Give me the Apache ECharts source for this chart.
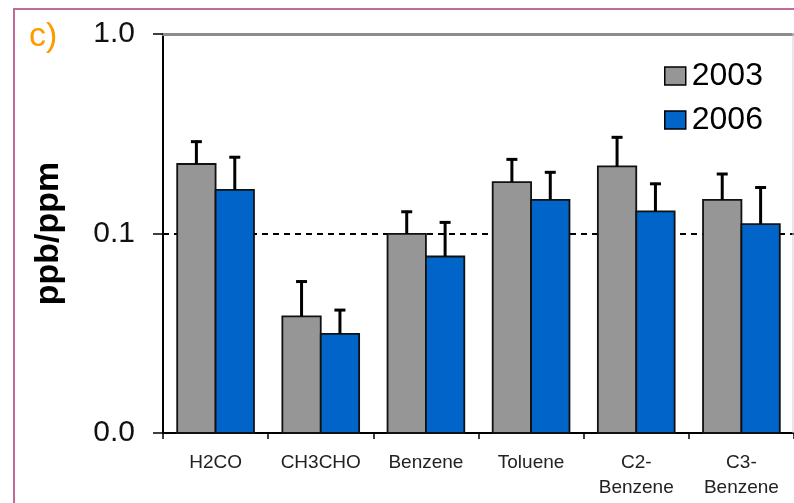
<!DOCTYPE html>
<html>
<head>
<meta charset="utf-8">
<script src="https://cdn.jsdelivr.net/npm/echarts@6/dist/echarts.min.js"></script>
<style>html,body{margin:0;padding:0;background:#fff;}#c{width:794px;height:503px;}</style>
</head>
<body>
<div id="c"></div>
<script>
const categories = ['H2CO', 'CH3CHO', 'Benzene', 'Toluene', 'C2-\nBenzene', 'C3-\nBenzene'];
const years = ['2003', '2006'];
const values2003 = [0.223, 0.0384, 0.0995, 0.181, 0.217, 0.1475];
const errTop2003 = [0.292, 0.0581, 0.130, 0.238, 0.307, 0.201];
const values2006 = [0.1656, 0.0314, 0.0767, 0.1475, 0.129, 0.1113];
const errTop2006 = [0.244, 0.0418, 0.115, 0.205, 0.1795, 0.172];
const yMin = 0.01, yMax = 1;

const chart = echarts.init(document.getElementById('c'), null, {renderer: 'canvas'});

function makeRender(side) {
  return function (params, api) {
    const i = api.value(0), v = api.value(1), e = api.value(2);
    const base = api.coord([i, yMin]);
    const top = api.coord([i, v]);
    const err = api.coord([i, e]);
    const band = api.coord([1, yMin])[0] - api.coord([0, yMin])[0];
    const barW = band * 0.365;
    const x = side === 0 ? top[0] - barW : top[0];
    const cx = x + barW / 2;
    return {
      type: 'group',
      children: [
        {type: 'rect', shape: {x: x, y: top[1], width: barW, height: base[1] - top[1]},
         style: {fill: api.visual('color'), stroke: '#111', lineWidth: 1.8}},
        {type: 'line', shape: {x1: cx, y1: top[1], x2: cx, y2: err[1]},
         style: {stroke: '#000', lineWidth: 3}},
        {type: 'line', shape: {x1: cx - 5.5, y1: err[1] + 1, x2: cx + 5.5, y2: err[1] + 1},
         style: {stroke: '#000', lineWidth: 3}}
      ]
    };
  };
}

function seriesData(vals, errs) {
  return vals.map((v, i) => [i, v, errs[i]]);
}

chart.setOption({
  animation: false,
  backgroundColor: '#fff',
  title: {text: 'c)', left: 24, top: 15, textStyle: {color: '#ff9900', fontSize: 34, fontWeight: 'normal', fontFamily: 'Liberation Sans'}},
  legend: {
    orient: 'vertical', left: 659, top: 55, itemWidth: 21, itemHeight: 18, itemGap: 12,
    icon: 'rect',
    data: years,
    itemStyle: {borderColor: '#000', borderWidth: 1.5},
    textStyle: {fontSize: 32, color: '#000', fontFamily: 'Liberation Sans', padding: [0, 0, 0, 1]}
  },
  grid: {left: 163, top: 34, width: 633, height: 399, containLabel: false},
  xAxis: [{
    type: 'category', data: categories, position: 'bottom',
    axisLine: {lineStyle: {color: '#000', width: 2}},
    axisTick: {show: true, length: 6, lineStyle: {color: '#000', width: 1.5}},
    axisLabel: {fontSize: 19, color: '#222', margin: 17, lineHeight: 25, fontFamily: 'Liberation Sans', interval: 0}
  }, {
    type: 'category', data: categories, position: 'top',
    axisLine: {lineStyle: {color: '#8c8c8c', width: 3}},
    axisTick: {show: false}, axisLabel: {show: false}
  }],
  yAxis: [{
    type: 'log', logBase: 10, min: yMin, max: yMax,
    name: 'ppb/ppm', nameLocation: 'middle', nameGap: 97, nameRotate: 90,
    nameTextStyle: {fontSize: 34, fontWeight: 'bold', color: '#000', fontFamily: 'Liberation Sans'},
    axisLine: {show: true, lineStyle: {color: '#000', width: 2}},
    axisTick: {show: true, length: 10, lineStyle: {color: '#000', width: 1.5}},
    minorTick: {show: false},
    axisLabel: {fontSize: 30, color: '#111', margin: 28, fontFamily: 'Liberation Sans',
      formatter: v => Number(v).toFixed(1)},
    splitLine: {show: true, lineStyle: {color: '#000', width: 1.8, type: [6, 5]}}
  }],
  graphic: [
    {type: 'rect', shape: {x: 14, y: 9, width: 900, height: 700}, style: {fill: 'none', stroke: '#c06a98', lineWidth: 2}, z: 100},
    {type: 'line', shape: {x1: 793, y1: 33, x2: 793, y2: 433}, style: {stroke: '#cfcfcf', lineWidth: 1}, z: 100}
  ],
  series: [
    {name: '2003', type: 'custom', renderItem: makeRender(0), itemStyle: {color: '#969696'},
     encode: {x: 0, y: 1}, data: seriesData(values2003, errTop2003), z: 5},
    {name: '2006', type: 'custom', renderItem: makeRender(1), itemStyle: {color: '#0064c8'},
     encode: {x: 0, y: 1}, data: seriesData(values2006, errTop2006), z: 5}
  ]
});
</script>
</body>
</html>
